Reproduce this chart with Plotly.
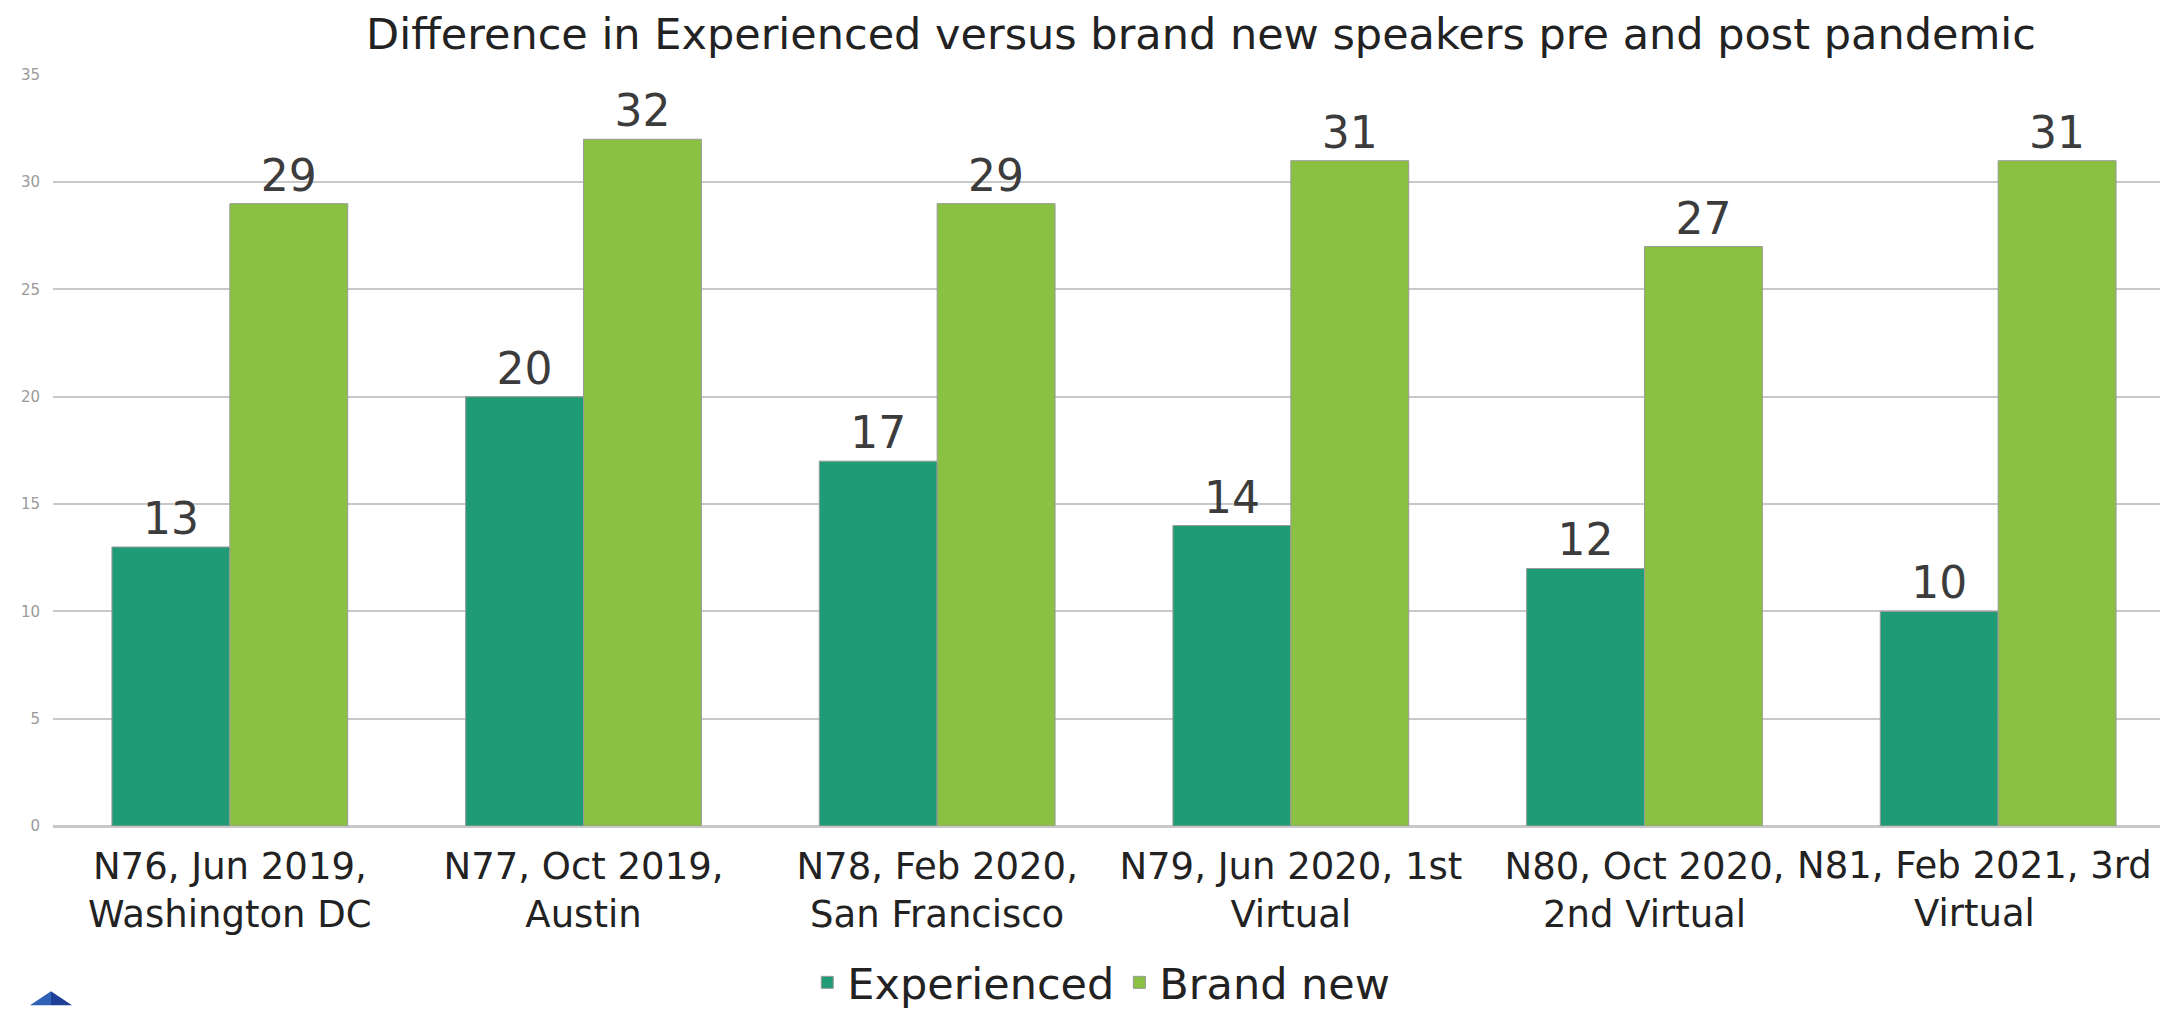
import plotly.graph_objects as go

categories = [
    "N76, Jun 2019,<br>Washington DC",
    "N77, Oct 2019,<br>Austin",
    "N78, Feb 2020,<br>San Francisco",
    "N79, Jun 2020, 1st<br>Virtual",
    "N80, Oct 2020,<br>2nd Virtual",
    "N81, Feb 2021, 3rd<br>Virtual",
]
experienced = [13, 20, 17, 14, 12, 10]
brand_new = [29, 32, 29, 31, 27, 31]
y_ticks = [0, 5, 10, 15, 20, 25, 30, 35]

FONT = "DejaVu Sans"
C_EXP = "#1f9b76"
C_NEW = "#8bc142"
TICK_FONT = dict(family=FONT, size=37, color="#222222")

fig = go.Figure()
for name, vals, col in [("Experienced", experienced, C_EXP), ("Brand new", brand_new, C_NEW)]:
    fig.add_trace(go.Bar(
        x=categories, y=vals, name=name,
        marker=dict(color=col, line=dict(color="#9a9a9a", width=1)),
        text=vals, texttemplate="%{y}", textposition="outside",
        textfont=dict(family=FONT, size=44, color="#3c3c3c"),
        cliponaxis=False,
    ))

W, H = 2168, 1010
L, R, T, B = 45, 1, 66, 180

fig.update_layout(
    width=W, height=H,
    margin=dict(l=L, r=R, t=T, b=B),
    paper_bgcolor="white", plot_bgcolor="white",
    barmode="group", bargap=1/3, bargroupgap=0,
    title=dict(
        text="Difference in Experienced versus brand new speakers pre and post pandemic",
        font=dict(family=FONT, size=43, color="#222222"),
        x=(1193 - L) / (W - L - R), xref="paper", xanchor="center",
        y=1 - 26 / H, yref="container", yanchor="middle",
    ),
    legend=dict(
        orientation="h", x=0.494, xanchor="center", y=-0.208, yanchor="middle",
        font=dict(family=FONT, size=43, color="#222222"),
        itemwidth=30, tracegroupgap=0,
    ),
    font=dict(family=FONT),
    showlegend=True,
)
fig.update_yaxes(
    range=[0, 35.04], tickvals=y_ticks,
    tickfont=dict(family=FONT, size=15, color="#9a9a9a"),
    showgrid=True, gridcolor="#c8c8c8", gridwidth=2,
    zeroline=True, zerolinecolor="#c8c8c8", zerolinewidth=3,
    ticks="", showline=False, automargin=False, ticklabelstandoff=12,
)
# last category label is drawn as an annotation nudged left so it stays inside the chart
fig.update_xaxes(
    tickvals=categories, ticktext=categories[:-1] + [""],
    tickfont=TICK_FONT, tickangle=0,
    ticks="", showline=False, automargin=False, ticklabelstandoff=15,
)
fig.add_annotation(
    x=categories[-1], xref="x", y=0, yref="paper",
    text=categories[-1], showarrow=False, font=TICK_FONT,
    xanchor="center", yanchor="top", align="center",
    xshift=-24, yshift=-16,
)

# small blue logo fragment at bottom-left
def px2paper(px, py):
    return (px - L) / (W - L - R), (H - B - py) / (H - T - B)

a = px2paper(43, 998); bl = px2paper(22, 1012); br = px2paper(64, 1012); bm = px2paper(43, 1012)
fig.add_shape(type="path", xref="paper", yref="paper",
              path=f"M {bl[0]} {bl[1]} L {a[0]} {a[1]} L {bm[0]} {bm[1]} Z",
              fillcolor="#2f62b5", line=dict(width=0))
fig.add_shape(type="path", xref="paper", yref="paper",
              path=f"M {bm[0]} {bm[1]} L {a[0]} {a[1]} L {br[0]} {br[1]} Z",
              fillcolor="#1f3f96", line=dict(width=0))

fig.write_html("out.html")
